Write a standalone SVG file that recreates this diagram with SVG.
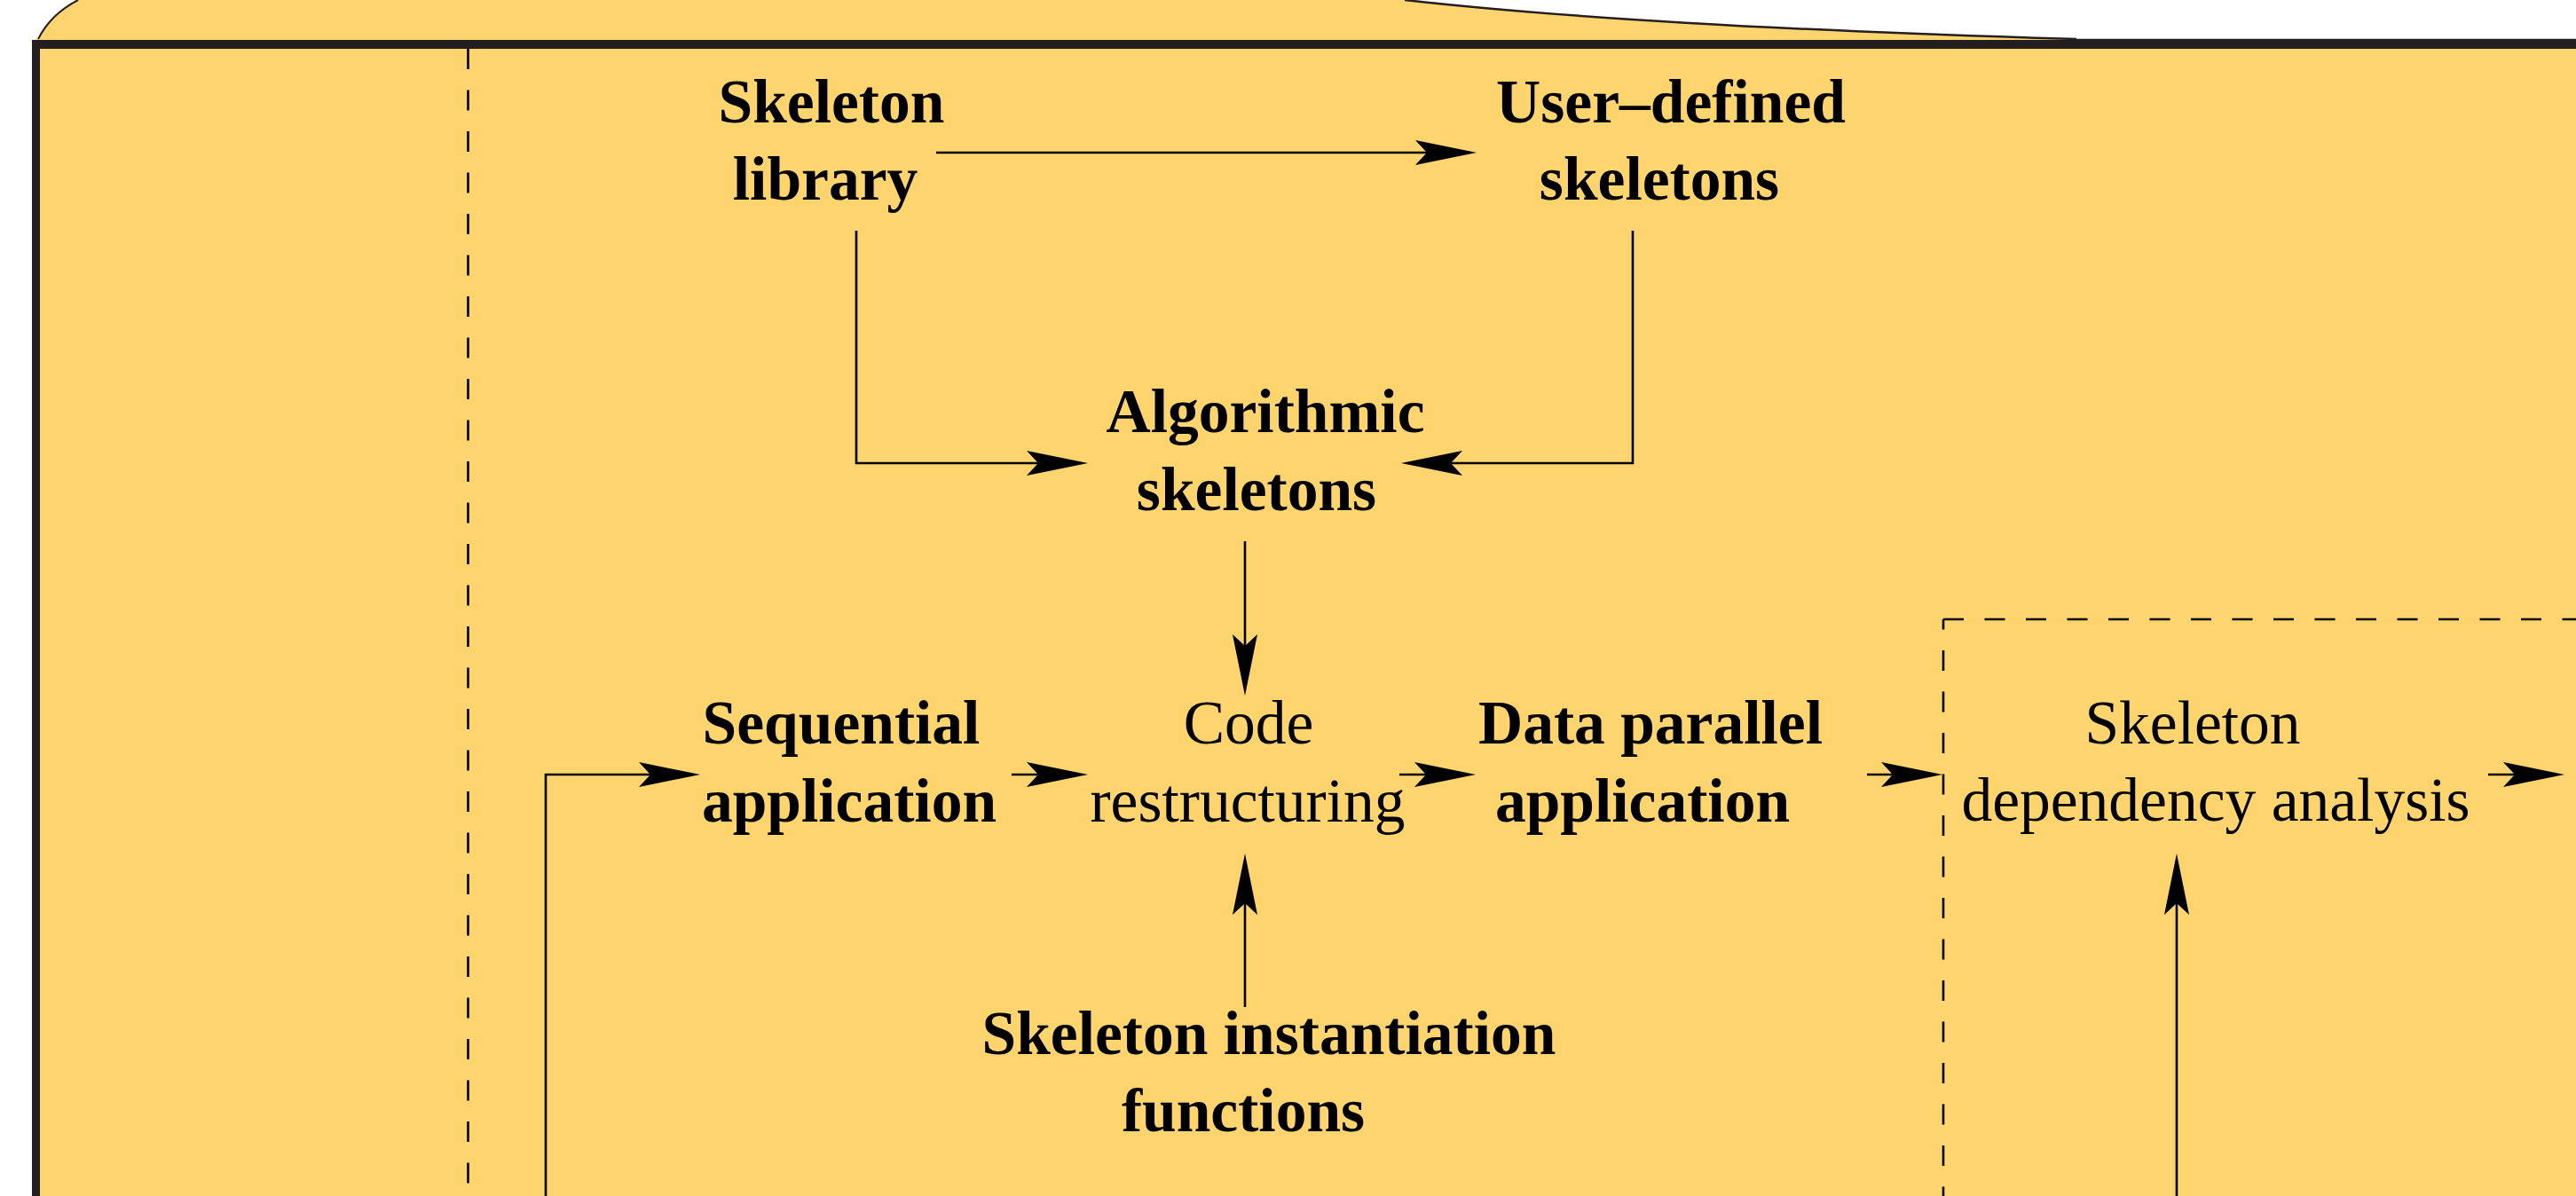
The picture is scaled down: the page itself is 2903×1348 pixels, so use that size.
<svg xmlns="http://www.w3.org/2000/svg" width="2903" height="1348" viewBox="0 0 2903 1348">
<style>
.t{font-family:"Liberation Serif","Times New Roman",serif;font-size:69.5px;fill:#000;text-anchor:middle}
.b{font-weight:bold}
.c{fill:none;stroke:#000;stroke-width:2.6;marker-end:url(#ah)}
.d{fill:none;stroke:#000;stroke-width:2.6;stroke-dasharray:23 23.5}
.f{fill:none;stroke:#231f20}
</style>
<defs>
<marker id="ah" viewBox="-72 -16 74 32" markerWidth="74" markerHeight="32" refX="-10" refY="0" orient="auto" markerUnits="userSpaceOnUse">
<path d="M0,0 L-69,-14 L-56,0 L-69,14 Z" fill="#000"/>
</marker>
</defs>
<rect x="0" y="0" width="2903" height="1348" fill="#fff"/>
<path d="M88,0 L1583,0 Q1850,30 2340,44 L2903,44 L2903,1348 L40,1348 L40,44 L43,44 Q57,16 88,0 Z" fill="#fed46f"/>
<path class="f" stroke-width="2" d="M43,44 Q57,16 88,0"/>
<path class="f" stroke-width="2.5" d="M1583,0 Q1850,30 2340,44"/>
<path class="f" stroke-width="1.5" d="M2340,44.5 H2903"/>
<path class="f" stroke-width="10" d="M36,50 H2903"/>
<path class="f" stroke-width="9" d="M40.5,45 V1348"/>
<g id="regions">
<path class="d" d="M527.5,55 V1348"/>
<path class="d" d="M2190,698 H2903"/>
<path class="d" stroke-dashoffset="11.5" d="M2190,698 V1348"/>
</g>
<g id="connectors">
<path class="c" d="M1055,172 H1654"/>
<path class="c" d="M965,260 V522 H1216"/>
<path class="c" d="M1840,260 V522 H1589"/>
<path class="c" d="M1403,610 V774"/>
<path class="c" d="M1140,873 H1216"/>
<path class="c" d="M1577,873 H1653"/>
<path class="c" d="M2104,873 H2179"/>
<path class="c" d="M2804,873 H2880"/>
<path class="c" d="M615,1348 V873 H779"/>
<path class="c" d="M1403,1135 V972"/>
<path class="c" d="M2453,1348 V972"/>
</g>
<g id="skeleton-library"><text class="t b" x="937" y="138">Skeleton</text><text class="t b" x="930" y="225">library</text></g>
<g id="user-defined-skeletons"><text class="t b" x="1883" y="138">User–defined</text><text class="t b" x="1870" y="225">skeletons</text></g>
<g id="algorithmic-skeletons"><text class="t b" x="1426" y="487">Algorithmic</text><text class="t b" x="1416" y="575">skeletons</text></g>
<g id="sequential-application"><text class="t b" x="948" y="838">Sequential</text><text class="t b" x="957" y="926">application</text></g>
<g id="code-restructuring"><text class="t" x="1407" y="838">Code</text><text class="t" x="1406" y="926">restructuring</text></g>
<g id="data-parallel-application"><text class="t b" x="1860" y="838">Data parallel</text><text class="t b" x="1851" y="926">application</text></g>
<g id="skeleton-dependency-analysis"><text class="t" x="2471" y="838">Skeleton</text><text class="t" x="2497" y="925">dependency analysis</text></g>
<g id="skeleton-instantiation-functions"><text class="t b" x="1430" y="1188">Skeleton instantiation</text><text class="t b" x="1401" y="1275">functions</text></g>
</svg>
